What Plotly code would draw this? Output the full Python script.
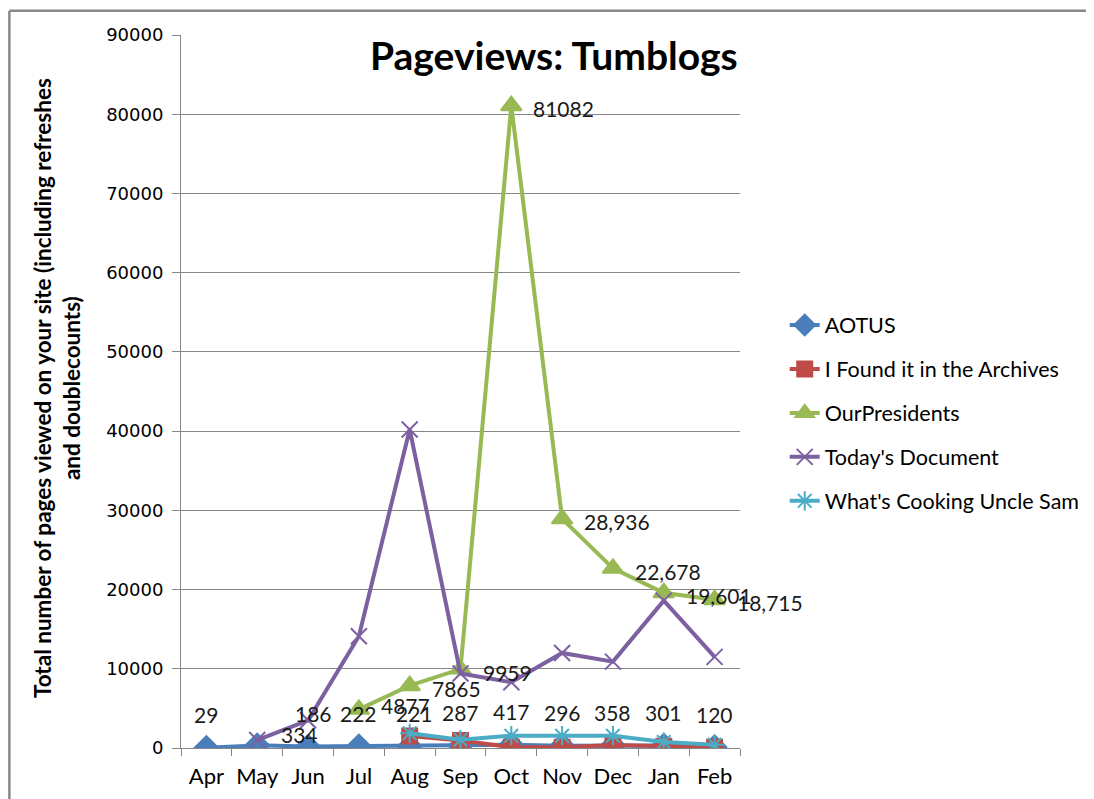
import plotly.graph_objects as go

months = ["Apr", "May", "Jun", "Jul", "Aug", "Sep", "Oct", "Nov", "Dec", "Jan", "Feb"]

aotus = [29, 334, 186, 222, 221, 287, 417, 296, 358, 301, 120]
found_archives = [None, None, None, None, 1500, 950, 90, 100, 380, 210, 110]
our_presidents = [None, None, None, 4877, 7865, 9959, 81082, 28936, 22678, 19601, 18715]
todays_document = [None, 1000, 3500, 14100, 40200, 9400, 8300, 12000, 10900, 18600, 11500]
whats_cooking = [None, None, None, None, 1850, 1050, 1550, 1550, 1550, 750, 400]

aotus_labels = ["29", "334", "186", "222", "221", "287", "417", "296", "358", "301", "120"]
op_labels = [None, None, None, "4877", "7865", "9959", "81082", "28,936", "22,678", "19,601", "18,715"]

GRID = "#868686"
SANS = "Lato, 'Open Sans', sans-serif"

series = [
    ("AOTUS", aotus, "#4A7EBB", "diamond", 18),
    ("I Found it in the Archives", found_archives, "#BE4B48", "square", 15),
    ("OurPresidents", our_presidents, "#98B954", "triangle-up", 18),
    ("Today's Document", todays_document, "#7D60A0", "x-thin-open", 16),
    ("What's Cooking Uncle Sam", whats_cooking, "#4BACC6", "asterisk-open", 16),
]

fig = go.Figure()
for i, (name, vals, color, sym, size) in enumerate(series):
    fig.add_trace(go.Scatter(
        x=months, y=vals, name=name, mode="lines+markers",
        line=dict(color=color, width=4),
        marker=dict(symbol=sym, size=size, color=color,
                    line=dict(color=color, width=2)),
        legendgroup=f"g{i}",
        connectgaps=False,
    ))

annotations = []
# AOTUS labels (above points, one nudged right)
for m, v, t in zip(months, aotus, aotus_labels):
    xs, ys = (0, 33)
    if m == "May":
        xs, ys = (42, 11)
    elif m in ("Jun", "Aug"):
        xs = 5
    annotations.append(dict(x=m, y=v, xref="x", yref="y", text=t, showarrow=False,
                            xshift=xs, yshift=ys, font=dict(family=SANS, size=21, color="#1a1a1a")))
# OurPresidents labels (right of points)
for m, v, t in zip(months, our_presidents, op_labels):
    if t is None:
        continue
    ys = -3
    if m == "Jul":
        ys = 4
    annotations.append(dict(x=m, y=v, xref="x", yref="y", text=t, showarrow=False,
                            xanchor="left", xshift=20, yshift=ys,
                            font=dict(family=SANS, size=21, color="#1a1a1a")))

# Title
annotations.append(dict(x=1.0, y=0.972, xref="paper", yref="paper", text="<b>Pageviews: Tumblogs</b>",
                        showarrow=False, xanchor="right", yanchor="middle",
                        font=dict(family=SANS, size=39, color="black")))
# Y axis title
annotations.append(dict(x=-0.2215, y=0.505, xref="paper", yref="paper",
                        text="<b>Total number of pages viewed on your site (including refreshes<br>and doublecounts)</b>",
                        showarrow=False, textangle=-90, xanchor="center", yanchor="middle",
                        font=dict(family=SANS, size=22.5, color="black")))

fig.update_layout(
    width=1094, height=799,
    margin=dict(l=173, r=362, t=27, b=59),
    paper_bgcolor="white", plot_bgcolor="white",
    showlegend=True,
    legend=dict(x=1.08, y=0.622, xanchor="left", yanchor="top",
                font=dict(family=SANS, size=21.5, color="black"),
                tracegroupgap=13, bgcolor="rgba(0,0,0,0)"),
    annotations=annotations,
    shapes=[
        dict(type="line", xref="paper", yref="paper", x0=-0.307, x1=1.66, y0=1.034, y1=1.034,
             line=dict(color="#888888", width=2.5)),
        dict(type="line", xref="paper", yref="paper", x0=-0.307, x1=-0.307, y0=1.034, y1=-0.2,
             line=dict(color="#888888", width=2.5)),
    ],
)

fig.update_xaxes(
    type="category", categoryorder="array", categoryarray=months,
    range=[-0.5, 10.5],
    showline=True, linecolor=GRID, linewidth=1,
    ticks="outside", tickson="boundaries", ticklen=7, tickcolor=GRID,
    ticklabelstandoff=9, tickangle=0, automargin=False,
    showgrid=False, zeroline=False,
    tickfont=dict(family=SANS, size=22, color="black"),
)
fig.update_yaxes(
    range=[0, 90000], dtick=10000, tickformat="d",
    showline=True, linecolor=GRID, linewidth=1,
    ticks="outside", ticklen=8, tickcolor=GRID,
    ticklabelstandoff=5, automargin=False,
    showgrid=True, gridcolor=GRID, gridwidth=1, zeroline=False,
    tickfont=dict(family="'DejaVu Sans', Verdana, sans-serif", size=18, color="black"),
)

fig.write_html("out.html")
